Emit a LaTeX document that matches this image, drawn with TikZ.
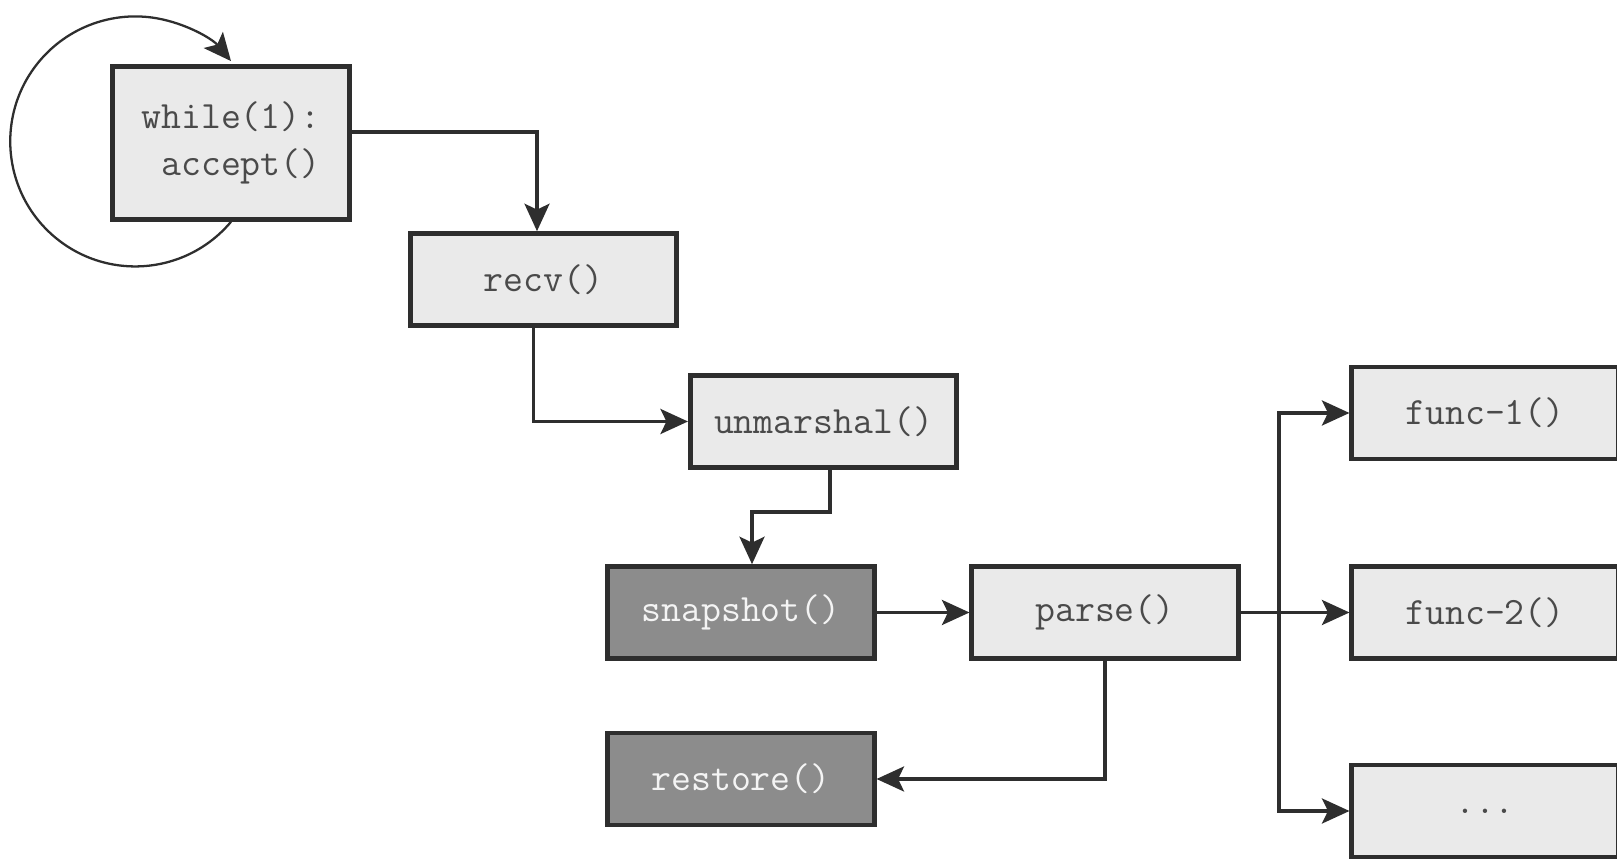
\documentclass[tikz,border=0pt]{standalone}
\usetikzlibrary{arrows.meta}
\definecolor{boxfill}{HTML}{EAEAEA}
\definecolor{darkfill}{HTML}{8C8C8C}
\definecolor{boxline}{HTML}{2E2E2E}
\definecolor{lighttext}{HTML}{F4F4F4}
\definecolor{codetext}{HTML}{4A4A4A}

\newcommand{\callbox}[3]{%
 \node[callbox] ({#1}) at ({#2}) {#3};%
}
\newcommand{\darkbox}[3]{%
 \node[callbox,fill=darkfill,text=lighttext] ({#1}) at ({#2}) {#3};%
}

\begin{document}
\begin{tikzpicture}[
  callbox/.style={draw=boxline,line width=2.6pt,fill=boxfill,text=codetext,
    minimum width=5.33cm,minimum height=1.84cm,
    font=\fontsize{22}{27}\selectfont\ttfamily},
  flow/.style={draw=boxline,line width=2pt,
    -{Stealth[length=5.5mm,width=5mm,inset=1.2mm]}}]
   \useasboundingbox (0,0) rectangle (32.34,17.24);
   \node[callbox,minimum width=4.74cm,minimum height=3.06cm,align=right] (loop) at (4.62,14.38) {while(1):\\accept()};
   \callbox{recv}{10.87,11.65}{recv()};
   \callbox{unmarshal}{16.47,8.81}{unmarshal()};
   \darkbox{snapshot}{14.82,4.99}{snapshot()};
   \callbox{parse}{22.10,4.99}{parse()};
   \darkbox{restore}{14.82,1.66}{restore()};
   \callbox{func1}{29.70,8.98}{func-1()};
   \callbox{func2}{29.70,4.99}{func-2()};
   \callbox{more}{29.70,1.02}{...};
   \coordinate (fork) at (25.58,4.99);
   \draw[flow,line width=1.3pt] (loop.south) arc[start angle=-40,end angle=-320,radius=2.5];
   \draw[flow] ([yshift=2.2mm]loop.east) -| ([xshift=-1.3mm]recv.north);
   \draw[flow] ([xshift=-2mm]recv.south) |- (unmarshal.west);
   \draw[flow] ([xshift=1.3mm]unmarshal.south) -- ++(0,-0.84) -| ([xshift=2.2mm]snapshot.north);
   \draw[flow] (snapshot) -- (parse);
   \draw[flow] (parse.south) |- (restore.east);
   \draw[flow] (parse.east) -- (fork) |- (func1.west);
   \draw[flow] (fork) -- (func2.west);
   \draw[flow] (fork) |- (more.west);
\end{tikzpicture}
\end{document}
